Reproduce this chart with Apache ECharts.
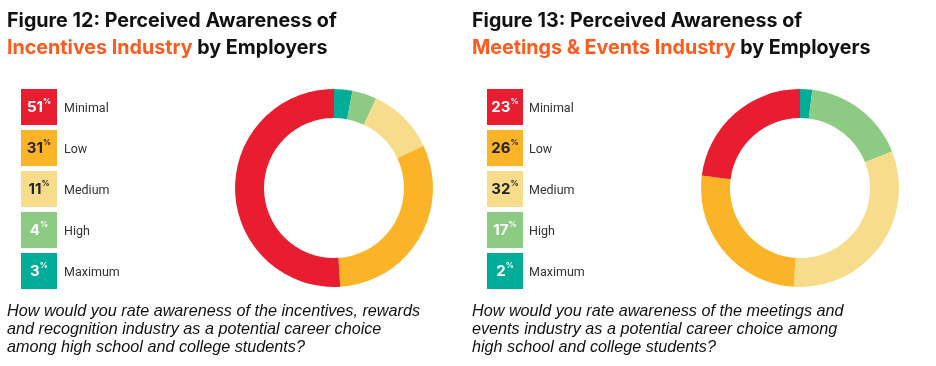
<!DOCTYPE html>
<html><head><meta charset="utf-8">
<script src="https://cdn.jsdelivr.net/npm/echarts@6/dist/echarts.min.js"></script>
<style>html,body{margin:0;padding:0;background:#fff}#c{width:936px;height:366px}</style>
</head><body><div id="c"></div>
<script>
const categories = ['Minimal', 'Low', 'Medium', 'High', 'Maximum'];
const incentivesValues = [51, 31, 11, 4, 3];
const meetingsValues = [23, 26, 32, 17, 2];
const titles = [
  ['Figure 12: Perceived Awareness of', 'Incentives Industry', ' by Employers'],
  ['Figure 13: Perceived Awareness of', 'Meetings & Events Industry', ' by Employers']
];
const questions = [
  'How would you rate awareness of the incentives, rewards\nand recognition industry as a potential career choice\namong high school and college students?',
  'How would you rate awareness of the meetings and\nevents industry as a potential career choice among\nhigh school and college students?'
];

const palette = ['#E81E30', '#FBB427', '#F6DC8B', '#8DCB84', '#00AD98'];
const boxText = ['#ffffff', '#222222', '#222222', '#ffffff', '#ffffff'];

const panels = [
  {x: 7, boxX: 21, labelX: 64, cx: 334, values: incentivesValues},
  {x: 472, boxX: 487, labelX: 529, cx: 800, values: meetingsValues}
];

const chart = echarts.init(document.getElementById('c'), null, {renderer: 'canvas'});
const graphic = [];
const series = [];
const titleList = [];

panels.forEach((p, pi) => {
  titleList.push({
    left: p.x, top: 8, padding: 0,
    text: '{b|' + titles[pi][0] + '}\n{o|' + titles[pi][1] + '}{b|' + titles[pi][2] + '}',
    textStyle: {
      rich: {
        b: {fontFamily: 'Inter', fontWeight: 'bold', fontSize: 19.7, color: '#111111', lineHeight: 26.5},
        o: {fontFamily: 'Inter', fontWeight: 'bold', fontSize: 19.7, color: '#FF5A1C', lineHeight: 26.5}
      }
    }
  });
  categories.forEach((c, i) => {
    const y = 89 + i * 41;
    graphic.push({
      type: 'rect', left: p.boxX, top: y, silent: true,
      shape: {width: 36, height: 36},
      style: {fill: palette[i]}
    });
    graphic.push({
      type: 'text', x: p.boxX + 18, y: y + 18, silent: true,
      style: {
        text: '{n|' + p.values[i] + '}{p|%}',
        align: 'center', verticalAlign: 'middle',
        rich: {
          n: {fontFamily: 'Inter', fontWeight: 'bold', fontSize: 15, fill: boxText[i], lineHeight: 18},
          p: {fontFamily: 'Inter', fontWeight: 'bold', fontSize: 8, fill: boxText[i], verticalAlign: 'top', lineHeight: 18, padding: [0, 0, 8, 0]}
        }
      }
    });
    graphic.push({
      type: 'text', x: p.labelX, y: y + 19.5, silent: true,
      style: {text: c, fontFamily: 'Roboto', fontSize: 12.5, fill: '#333333', verticalAlign: 'middle'}
    });
  });
  graphic.push({
    type: 'text', left: p.x, top: 303, silent: true,
    style: {text: questions[pi], fontFamily: 'Liberation Sans', fontStyle: 'italic', fontSize: 16.2, lineHeight: 17.8, fill: '#111111'}
  });
  const data = categories.map((c, i) => ({name: c, value: p.values[i], itemStyle: {color: palette[i]}})).reverse();
  series.push({
    type: 'pie', center: [p.cx, 188], radius: [70, 99], startAngle: 90, clockwise: true,
    silent: true, label: {show: false}, labelLine: {show: false}, animation: false,
    data: data
  });
});

chart.setOption({
  animation: false,
  title: titleList,
  graphic: graphic,
  series: series
});
</script></body></html>
